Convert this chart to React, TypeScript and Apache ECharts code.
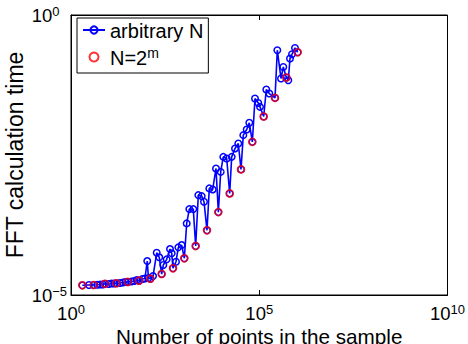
import React, { useEffect, useRef } from "react";
import * as echarts from "echarts";

// N = 2^m series (red circles)
const pow2N = [2, 4, 8, 16, 32, 64, 128, 256, 512, 1024, 2048, 4096, 8192, 16384, 32768, 65536, 131072, 262144, 524288, 1048576];
const pow2T = [1.49e-5, 1.51e-5, 1.59e-5, 1.62e-5, 1.71e-5, 1.8e-5, 1.95e-5, 2.37e-5, 3.0e-5, 4.52e-5, 7.48e-5, 1.43e-4, 3.02e-4, 6.52e-4, 1.75e-3, 5.43e-3, 1.54e-2, 3.31e-2, 7.65e-2, 0.216];

// arbitrary N series (blue line with circles)
const arbN = [2, 3, 4, 5, 6, 7, 8, 10, 12, 14, 16, 20, 24, 28, 32, 40, 48, 56, 64, 79, 92, 106, 114, 128, 151, 189, 221, 256, 283, 348, 426, 473, 512, 615, 708, 872, 1024, 1183, 1387, 1771, 2048, 2405, 2960, 3408, 4096, 4713, 5800, 7101, 8192, 9463, 11095, 13660, 16384, 18540, 22700, 27770, 32768, 37700, 46420, 54400, 65536, 77100, 94360, 104700, 131072, 153900, 184900, 262144, 301700, 378200, 435300, 524288, 590800, 655700, 741300, 890200, 1048576];
const arbT = [1.49e-5, 1.51e-5, 1.51e-5, 1.52e-5, 1.54e-5, 1.54e-5, 1.59e-5, 1.57e-5, 1.6e-5, 1.6e-5, 1.62e-5, 1.64e-5, 1.67e-5, 1.71e-5, 1.71e-5, 1.74e-5, 1.78e-5, 1.85e-5, 1.8e-5, 1.93e-5, 1.97e-5, 4.04e-5, 2.01e-5, 1.95e-5, 2.18e-5, 5.68e-5, 4.71e-5, 2.37e-5, 3.43e-5, 4.33e-5, 6.61e-5, 5.55e-5, 3.0e-5, 3.93e-5, 7.09e-5, 7.8e-5, 4.52e-5, 1.9e-4, 3.42e-4, 3.42e-4, 7.48e-5, 6.08e-4, 5.83e-4, 4.62e-4, 1.43e-4, 8.01e-4, 7.68e-4, 1.82e-3, 3.02e-4, 1.58e-3, 2.93e-3, 2.74e-3, 6.52e-4, 2.93e-3, 4.14e-3, 5.08e-3, 1.75e-3, 7.15e-3, 9.03e-3, 1.19e-2, 5.43e-3, 3.23e-2, 2.69e-2, 2.29e-2, 1.54e-2, 4.67e-2, 3.96e-2, 3.31e-2, 0.235, 7.34e-2, 0.118, 7.65e-2, 6.84e-2, 0.167, 0.199, 0.258, 0.216];

const xTickValues = [1, 1e5, 1e10];
const yTickValues = [1e-5, 1];

const seriesNames = ["arbitrary N", "N=2^m"];
const xTitle = "Number of points in the sample";
const yTitle = "FFT calculation time";

const FONT = "Liberation Sans, Arial, Helvetica, sans-serif";

const expLabel = (v: number) => {
  const e = Math.round(Math.log10(v));
  const s = e < 0 ? "\u2212" + String(-e) : String(e);
  return `{b|10}{e|${s}}`;
};

const tickRich = {
  b: { fontSize: 18.5, fontFamily: FONT, color: "#000", lineHeight: 20, verticalAlign: "bottom" },
  e: { fontSize: 13, fontFamily: FONT, color: "#000", lineHeight: 12, verticalAlign: "top" },
};

export default function App() {
  const ref = useRef<HTMLDivElement>(null);
  useEffect(() => {
    if (!ref.current) return;
    const chart = echarts.init(ref.current, null, { renderer: "svg" });
    const axisLine = { show: true, lineStyle: { color: "#000", width: 1 } };
    const xTick = { show: true, inside: true, length: 5, customValues: xTickValues, lineStyle: { color: "#000", width: 1 } };
    const yTick = { show: true, inside: true, length: 5, customValues: yTickValues, lineStyle: { color: "#000", width: 1 } };
    chart.setOption({
      animation: false,
      backgroundColor: "#fff",
      textStyle: { fontFamily: FONT },
      grid: {
        left: 71,
        top: 15,
        width: 376.5,
        height: 280,
        show: true,
        borderColor: "#000",
        borderWidth: 1,
        backgroundColor: "transparent",
        containLabel: false,
        outerBoundsMode: "none",
      },
      legend: {
        data: seriesNames,
        orient: "vertical",
        left: 77,
        top: 18,
        padding: [3, 5, 5, 5],
        itemGap: 5,
        itemWidth: 22,
        itemHeight: 9,
        backgroundColor: "#fff",
        borderColor: "#000",
        borderWidth: 1,
        borderRadius: 0,
        formatter: (name: string) => (name === "N=2^m" ? "{a|N=2}{s|m}" : `{a|${name}}`),
        textStyle: {
          fontSize: 20,
          fontFamily: FONT,
          color: "#000",
          rich: {
            a: { fontSize: 20, fontFamily: FONT, color: "#000", lineHeight: 22, verticalAlign: "bottom" },
            s: { fontSize: 14, fontFamily: FONT, color: "#000", lineHeight: 14, verticalAlign: "top" },
          },
        },
      },
      xAxis: [
        {
          type: "log",
          logBase: 10,
          min: 1,
          max: 1e10,
          position: "bottom",
          name: xTitle,
          nameLocation: "middle",
          nameGap: 31,
          nameMoveOverlap: false,
          nameTextStyle: { fontSize: 20.7, fontFamily: FONT, color: "#000" },
          axisLine,
          axisTick: xTick,
          splitLine: { show: false },
          axisLabel: {
            show: true,
            margin: 8,
            customValues: xTickValues,
            formatter: expLabel,
            rich: tickRich,
            alignMinLabel: "center",
            alignMaxLabel: "center",
          },
        },
        {
          type: "log",
          logBase: 10,
          min: 1,
          max: 1e10,
          position: "top",
          axisLine,
          axisTick: xTick,
          splitLine: { show: false },
          axisLabel: { show: false },
        },
      ],
      yAxis: [
        {
          type: "log",
          logBase: 10,
          min: 1e-5,
          max: 1,
          position: "left",
          name: yTitle,
          nameLocation: "middle",
          nameGap: 45,
          nameMoveOverlap: false,
          nameTextStyle: { fontSize: 23, fontFamily: FONT, color: "#000" },
          axisLine,
          axisTick: yTick,
          splitLine: { show: false },
          axisLabel: {
            show: true,
            margin: 39.3,
            align: "left",
            customValues: yTickValues,
            formatter: expLabel,
            rich: tickRich,
            verticalAlignMinLabel: "middle",
            verticalAlignMaxLabel: "middle",
          },
        },
      ],
      series: [
        {
          name: seriesNames[0],
          type: "line",
          xAxisIndex: 0,
          yAxisIndex: 0,
          data: arbN.map((n, i) => [n, arbT[i]]),
          symbol: "circle",
          symbolSize: 6.5,
          showSymbol: true,
          lineStyle: { color: "#0000ff", width: 1.6 },
          itemStyle: { color: "rgba(255,255,255,0)", borderColor: "#0000ff", borderWidth: 1.5 },
          z: 2,
        },
        {
          name: seriesNames[1],
          type: "scatter",
          xAxisIndex: 0,
          yAxisIndex: 0,
          data: pow2N.map((n, i) => [n, pow2T[i]]),
          symbol: "circle",
          symbolSize: 7,
          itemStyle: { color: "rgba(255,255,255,0)", borderColor: "#ff0000", borderWidth: 1.6 },
          z: 3,
        },
      ],
    });
    return () => chart.dispose();
  }, []);
  return (
    <div
      ref={ref}
      style={{ position: "fixed", left: 0, top: 0, width: 468, height: 344, background: "#fff" }}
    />
  );
}
